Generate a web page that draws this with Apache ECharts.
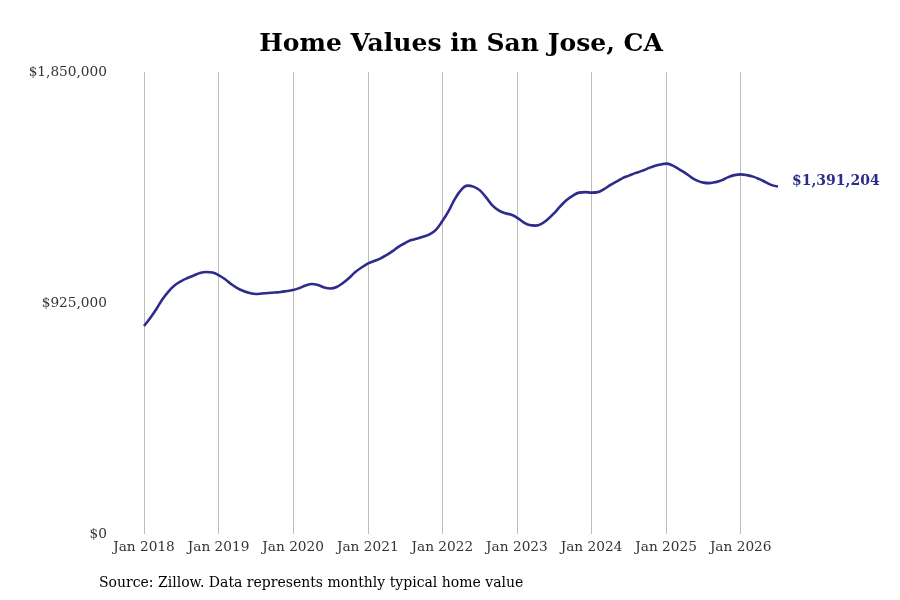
<!DOCTYPE html>
<html><head><meta charset="utf-8">
<script src="https://cdn.jsdelivr.net/npm/echarts@6/dist/echarts.min.js"></script>
<style>html,body{margin:0;padding:0;background:#fff}#c{width:900px;height:600px}</style>
</head><body><div id="c"></div>
<script>
const months = ['Jan','Feb','Mar','Apr','May','Jun','Jul','Aug','Sep','Oct','Nov','Dec'];
const categories = [];
for (let y = 2018; y <= 2026; y++) for (let m = 0; m < 12; m++) { if (y === 2026 && m > 6) break; categories.push(months[m] + ' ' + y); }
const values2018 = [832900, 865000, 901000, 941000, 973000, 997000, 1013000, 1025000, 1035000, 1045000, 1049000, 1047000];
const values2019 = [1037000, 1021000, 1001000, 985000, 973000, 965000, 961000, 963000, 965000, 967000, 969000, 973000];
const values2020 = [977000, 985000, 995000, 1001000, 997000, 987000, 983000, 989000, 1005000, 1025000, 1049000, 1067000];
const values2021 = [1083000, 1093000, 1103000, 1117000, 1133000, 1151000, 1165000, 1177000, 1183000, 1191000, 1201000, 1219000];
const values2022 = [1253000, 1293000, 1341000, 1377000, 1395000, 1391000, 1377000, 1349000, 1317000, 1297000, 1285000, 1279000];
const values2023 = [1267000, 1249000, 1237000, 1235000, 1243000, 1261000, 1285000, 1313000, 1337000, 1355000, 1367000, 1369000];
const values2024 = [1367000, 1369000, 1381000, 1397000, 1411000, 1425000, 1435000, 1445000, 1453000, 1463000, 1473000, 1479000];
const values2025 = [1483000, 1476000, 1462000, 1447000, 1429000, 1415000, 1407000, 1405000, 1409000, 1417000, 1429000, 1437000];
const values2026 = [1440000, 1437000, 1431000, 1421000, 1409000, 1397000, 1391204];
const values = [].concat(values2018, values2019, values2020, values2021, values2022, values2023, values2024, values2025, values2026);
const yTicks = [0, 925000, 1850000];
const titleText = 'Home Values in San Jose, CA';
const sourceText = 'Source: Zillow. Data represents monthly typical home value';

const fmt = v => '$' + Math.round(v).toLocaleString('en-US');
const FONT = 'DejaVu Serif';
const chart = echarts.init(document.getElementById('c'), null, {renderer: 'canvas'});
chart.setOption({
  animation: false,
  backgroundColor: '#fff',
  title: [
    {text: titleText, left: 456, textAlign: 'center', top: 27, textStyle: {fontFamily: FONT, fontSize: 25, fontWeight: 'bold', color: '#000'}},
    {text: sourceText, left: 94, top: 571, textStyle: {fontFamily: FONT, fontSize: 14, fontWeight: 'normal', color: '#000'}}
  ],
  grid: {left: 144, right: 122, top: 72, bottom: 66},
  xAxis: {
    type: 'category', data: categories, boundaryGap: false,
    axisLine: {show: false},
    axisTick: {show: false},
    splitLine: {show: true, interval: 11, lineStyle: {color: '#bdbdbd', width: 1}},
    axisLabel: {interval: 11, margin: 6, fontFamily: FONT, fontSize: 13.7, color: '#333'}
  },
  yAxis: {
    type: 'value', min: yTicks[0], max: yTicks[2], interval: yTicks[1],
    axisLine: {show: false}, axisTick: {show: false}, splitLine: {show: false},
    axisLabel: {margin: 37, fontFamily: FONT, fontSize: 13.7, color: '#333', formatter: v => fmt(v)}
  },
  series: [{
    type: 'line', data: values, smooth: 0.4, symbol: 'none',
    lineStyle: {color: '#2e2b8a', width: 2.6},
    endLabel: {show: true, distance: 14, offset: [0, -5], formatter: p => fmt(p.value), fontFamily: FONT, fontSize: 14, fontWeight: 'bold', color: '#2e2b8a'}
  }]
});
</script></body></html>
